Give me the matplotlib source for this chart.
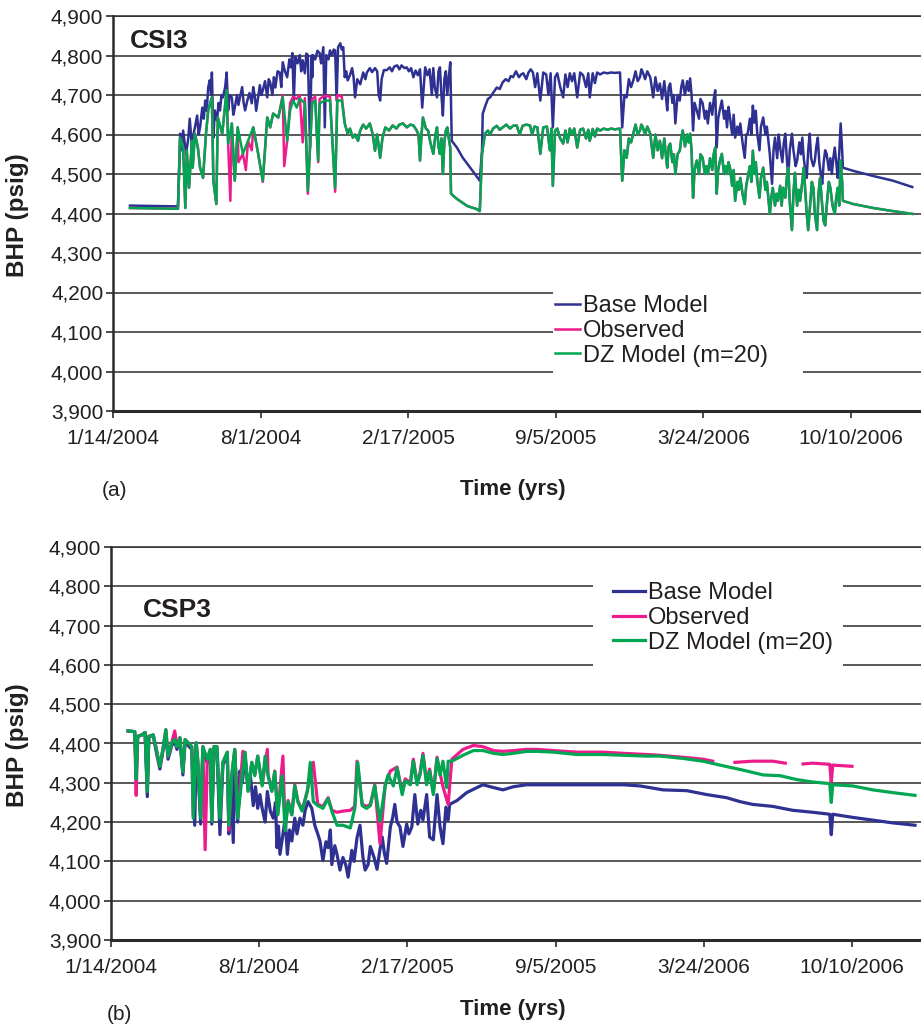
import numpy as np
import matplotlib
matplotlib.use("Agg")
import matplotlib.pyplot as plt
from matplotlib.patches import Rectangle

# Bottom-hole pressure (psig) vs days since 1/14/2004
NAN = np.nan

CSI3_BASE = [
    (23, 4420), (88, 4418), (91, 4602), (93, 4560), (95, 4610), (97, 4580), (99, 4551),
    (102, 4590), (104, 4640), (107, 4567), (109, 4600), (111, 4618), (114, 4648), (116, 4600),
    (118, 4618), (121, 4668), (123, 4640), (125, 4686), (127, 4660), (129, 4719), (131, 4737),
    (133, 4700), (134, 4757), (136, 4592), (138, 4661), (141, 4635), (143, 4680), (145, 4661),
    (147, 4700), (149, 4694), (152, 4720), (154, 4757), (156, 4661), (158, 4700), (161, 4694),
    (163, 4650), (165, 4668), (168, 4700), (170, 4675), (172, 4694), (175, 4720), (177, 4680),
    (179, 4661), (182, 4686), (185, 4705), (188, 4679), (190, 4720), (192, 4699), (194, 4660),
    (196, 4686), (199, 4725), (201, 4700), (203, 4712), (206, 4735), (209, 4694), (211, 4740),
    (213, 4732), (216, 4700), (218, 4745), (220, 4719), (223, 4760), (226, 4757), (228, 4720),
    (230, 4783), (233, 4760), (236, 4745), (239, 4790), (241, 4770), (243, 4806), (245, 4686),
    (247, 4796), (250, 4780), (253, 4801), (255, 4760), (257, 4788), (260, 4755), (262, 4805),
    (264, 4801), (267, 4567), (269, 4800), (270, 4745), (271, 4801), (274, 4790), (277, 4812),
    (280, 4806), (282, 4780), (285, 4821), (287, 4618), (289, 4801), (292, 4790), (294, 4813),
    (297, 4800), (299, 4815), (301, 4813), (303, 4686), (305, 4821), (308, 4831), (310, 4815),
    (312, 4821), (314, 4745), (316, 4760), (318, 4737), (321, 4750), (324, 4768), (326, 4745),
    (328, 4694), (331, 4740), (335, 4727), (339, 4757), (342, 4740), (344, 4757), (348, 4768),
    (351, 4758), (355, 4768), (358, 4760), (360, 4700), (362, 4686), (364, 4740), (367, 4763),
    (371, 4763), (375, 4770), (378, 4760), (381, 4772), (385, 4775), (388, 4765), (391, 4775),
    (395, 4768), (398, 4770), (401, 4760), (404, 4768), (407, 4745), (410, 4762), (413, 4750),
    (416, 4765), (419, 4668), (421, 4720), (423, 4770), (426, 4750), (429, 4765), (432, 4700),
    (434, 4768), (436, 4720), (439, 4694), (441, 4760), (443, 4770), (445, 4700), (447, 4648),
    (449, 4740), (451, 4760), (453, 4700), (455, 4745), (457, 4783), (459, 4584), (466, 4567),
    (474, 4541), (484, 4516), (497, 4483), (500, 4559), (501, 4653), (505, 4675), (508, 4690),
    (511, 4694), (515, 4705), (520, 4719), (524, 4715), (528, 4732), (532, 4740), (536, 4735),
    (539, 4748), (542, 4745), (546, 4760), (550, 4745), (553, 4752), (556, 4755), (560, 4740),
    (563, 4757), (566, 4765), (569, 4757), (572, 4720), (575, 4755), (579, 4686), (583, 4757),
    (587, 4752), (590, 4700), (593, 4755), (596, 4618), (599, 4745), (602, 4755), (606, 4720),
    (610, 4694), (613, 4752), (616, 4720), (619, 4755), (622, 4735), (625, 4755), (629, 4694),
    (633, 4757), (637, 4750), (641, 4720), (644, 4755), (646, 4694), (650, 4755), (653, 4730),
    (656, 4757), (660, 4752), (665, 4757), (670, 4755), (675, 4757), (680, 4756), (687, 4757),
    (690, 4618), (693, 4700), (696, 4694), (699, 4740), (702, 4720), (705, 4737), (708, 4760),
    (711, 4735), (714, 4745), (716, 4765), (718, 4757), (721, 4740), (724, 4760), (728, 4745),
    (730, 4720), (732, 4694), (735, 4745), (738, 4710), (741, 4729), (744, 4690), (747, 4735),
    (749, 4700), (751, 4661), (753, 4720), (755, 4729), (758, 4680), (760, 4700), (762, 4628),
    (765, 4700), (768, 4686), (770, 4720), (772, 4737), (775, 4700), (778, 4735), (780, 4710),
    (782, 4742), (784, 4700), (786, 4610), (788, 4680), (791, 4661), (794, 4640), (796, 4690),
    (799, 4679), (802, 4640), (804, 4660), (806, 4628), (809, 4680), (812, 4650), (814, 4690),
    (816, 4712), (818, 4567), (820, 4640), (822, 4660), (825, 4686), (828, 4640), (830, 4660),
    (832, 4618), (834, 4670), (836, 4643), (839, 4600), (841, 4650), (843, 4592), (846, 4620),
    (848, 4600), (850, 4628), (853, 4580), (856, 4541), (858, 4600), (860, 4602), (863, 4640),
    (865, 4600), (867, 4673), (869, 4630), (871, 4660), (873, 4602), (876, 4560), (878, 4620),
    (881, 4643), (884, 4600), (886, 4620), (888, 4584), (890, 4550), (893, 4475), (895, 4560),
    (897, 4592), (900, 4540), (902, 4600), (904, 4567), (907, 4530), (909, 4580), (911, 4602),
    (913, 4540), (915, 4490), (917, 4560), (920, 4602), (922, 4560), (925, 4520), (927, 4534),
    (930, 4580), (932, 4550), (934, 4592), (936, 4540), (938, 4510), (940, 4490), (942, 4560),
    (944, 4602), (946, 4540), (949, 4520), (951, 4534), (953, 4570), (955, 4592), (957, 4530),
    (959, 4500), (961, 4475), (963, 4530), (965, 4560), (967, 4551), (970, 4510), (972, 4540),
    (974, 4500), (976, 4540), (978, 4567), (980, 4530), (982, 4490), (984, 4550), (986, 4628),
    (988, 4560), (989, 4516), (1003, 4508), (1030, 4495), (1057, 4483), (1083, 4467),
]

CSI3_DZ = [
    (23, 4414), (88, 4412), (91, 4592), (95, 4567), (98, 4414), (100, 4559), (103, 4465),
    (107, 4584), (108, 4516), (111, 4602), (115, 4567), (118, 4516), (122, 4490), (126, 4602),
    (129, 4661), (134, 4694), (136, 4483), (140, 4424), (142, 4643), (148, 4602), (154, 4712),
    (156, 4577), (161, 4628), (165, 4483), (169, 4618), (176, 4551), (183, 4584), (190, 4618),
    (196, 4559), (203, 4483), (209, 4643), (213, 4618), (217, 4653), (224, 4643), (230, 4694),
    (236, 4584), (240, 4661), (244, 4686), (249, 4668), (253, 4691), (260, 4679), (264, 4457),
    (270, 4679), (274, 4686), (278, 4534), (280, 4679), (287, 4686), (294, 4686), (301, 4465),
    (304, 4686), (310, 4686), (314, 4628), (318, 4602), (321, 4615), (325, 4592), (328, 4600),
    (332, 4584), (335, 4610), (339, 4625), (343, 4615), (348, 4628), (352, 4600), (355, 4559),
    (358, 4600), (362, 4541), (365, 4590), (369, 4618), (374, 4610), (379, 4623), (384, 4615),
    (388, 4625), (393, 4628), (398, 4618), (403, 4625), (407, 4623), (411, 4612), (414, 4600),
    (416, 4534), (418, 4600), (420, 4643), (424, 4615), (427, 4610), (430, 4580), (434, 4551),
    (437, 4600), (439, 4618), (441, 4570), (443, 4551), (445, 4590), (447, 4500), (449, 4580),
    (451, 4610), (453, 4618), (455, 4590), (457, 4567), (458, 4450), (466, 4437), (480, 4419),
    (493, 4411), (497, 4406), (500, 4551), (504, 4602), (508, 4610), (511, 4600), (515, 4615),
    (520, 4622), (524, 4612), (528, 4618), (533, 4625), (538, 4615), (542, 4622), (547, 4623),
    (551, 4600), (555, 4622), (560, 4625), (565, 4623), (568, 4600), (571, 4620), (575, 4618),
    (579, 4551), (583, 4618), (588, 4620), (592, 4560), (594, 4615), (596, 4470), (599, 4610),
    (602, 4615), (606, 4590), (610, 4577), (613, 4610), (616, 4580), (619, 4615), (622, 4600),
    (625, 4615), (629, 4567), (633, 4612), (637, 4615), (641, 4590), (644, 4612), (646, 4584),
    (650, 4614), (653, 4595), (656, 4615), (660, 4610), (665, 4615), (670, 4612), (675, 4615),
    (680, 4613), (687, 4615), (690, 4483), (693, 4560), (696, 4541), (699, 4590), (702, 4580),
    (705, 4602), (708, 4625), (711, 4600), (714, 4610), (716, 4625), (718, 4618), (721, 4600),
    (724, 4620), (728, 4602), (730, 4570), (732, 4541), (735, 4600), (738, 4560), (741, 4584),
    (744, 4540), (747, 4590), (749, 4550), (751, 4516), (753, 4570), (755, 4577), (758, 4530),
    (760, 4550), (762, 4500), (765, 4550), (768, 4559), (770, 4590), (772, 4610), (775, 4570),
    (778, 4600), (780, 4580), (782, 4602), (784, 4560), (786, 4440), (788, 4510), (791, 4534),
    (794, 4500), (796, 4550), (799, 4541), (802, 4500), (804, 4520), (806, 4500), (809, 4540),
    (812, 4510), (814, 4550), (816, 4567), (818, 4450), (820, 4510), (822, 4530), (825, 4551),
    (828, 4500), (830, 4520), (832, 4500), (834, 4530), (836, 4516), (839, 4470), (841, 4510),
    (843, 4432), (846, 4480), (848, 4460), (850, 4490), (853, 4450), (856, 4424), (858, 4470),
    (860, 4490), (863, 4520), (865, 4480), (867, 4559), (869, 4500), (871, 4530), (873, 4483),
    (876, 4440), (878, 4490), (881, 4516), (884, 4460), (886, 4480), (888, 4440), (890, 4399),
    (892, 4440), (894, 4465), (897, 4420), (899, 4450), (901, 4432), (904, 4470), (906, 4420),
    (908, 4465), (911, 4440), (913, 4490), (915, 4516), (917, 4430), (920, 4358), (922, 4450),
    (924, 4503), (927, 4420), (929, 4460), (931, 4432), (934, 4480), (936, 4516), (938, 4460),
    (940, 4400), (942, 4358), (945, 4430), (947, 4480), (949, 4465), (951, 4400), (954, 4358),
    (956, 4450), (958, 4490), (961, 4420), (963, 4380), (965, 4370), (968, 4440), (970, 4480),
    (972, 4465), (975, 4420), (978, 4399), (980, 4440), (982, 4465), (984, 4420), (986, 4534),
    (988, 4480), (989, 4432), (1003, 4424), (1030, 4414), (1057, 4406), (1083, 4399),
]

# observed matches the DZ model after day 314 (hidden under it in the figure)
CSI3_OBS = [
    (23, 4414), (88, 4412), (91, 4592), (95, 4567), (98, 4414), (100, 4559), (103, 4465),
    (107, 4584), (108, 4516), (111, 4602), (115, 4567), (118, 4516), (122, 4490), (126, 4602),
    (129, 4661), (134, 4694), (136, 4483), (140, 4424), (142, 4643), (148, 4602), (154, 4712),
    (156, 4577), (159, 4432), (161, 4628), (165, 4483), (169, 4618), (170, 4530), (176, 4551),
    (180, 4510), (183, 4584), (188, 4560), (190, 4618), (196, 4559), (203, 4480), (209, 4643),
    (213, 4618), (217, 4653), (224, 4643), (230, 4700), (232, 4520), (236, 4584), (240, 4680),
    (244, 4696), (249, 4690), (253, 4700), (257, 4580), (260, 4692), (264, 4450), (270, 4690),
    (274, 4696), (278, 4530), (280, 4690), (287, 4698), (294, 4696), (301, 4455), (304, 4700),
    (310, 4696),
] + [p for p in CSI3_DZ if p[0] >= 314]

CSP3_BASE = [
    (23, 4432), (32, 4430), (34, 4320), (36, 4418), (42, 4422), (46, 4428), (49, 4265),
    (51, 4418), (57, 4420), (62, 4370), (66, 4335), (70, 4380), (74, 4425), (77, 4360),
    (82, 4395), (86, 4405), (89, 4385), (93, 4410), (97, 4320), (100, 4405), (104, 4395),
    (109, 4385), (113, 4192), (115, 4395), (117, 4350), (121, 4195), (124, 4385), (130, 4350),
    (134, 4380), (136, 4195), (139, 4385), (143, 4385), (147, 4168), (151, 4345), (157, 4370),
    (159, 4170), (162, 4300), (165, 4148), (167, 4380), (171, 4200), (174, 4330), (177, 4300),
    (181, 4360), (185, 4285), (188, 4320), (192, 4242), (195, 4290), (198, 4235), (201, 4270),
    (204, 4235), (208, 4200), (211, 4278), (215, 4228), (219, 4210), (222, 4250), (224, 4135),
    (226, 4190), (228, 4118), (232, 4168), (235, 4210), (238, 4118), (241, 4180), (244, 4152),
    (248, 4210), (251, 4170), (255, 4210), (259, 4192), (262, 4230), (266, 4252), (271, 4235),
    (275, 4192), (279, 4170), (282, 4152), (286, 4102), (290, 4150), (293, 4135), (296, 4180),
    (298, 4092), (302, 4140), (305, 4118), (309, 4078), (313, 4110), (317, 4090), (320, 4060),
    (325, 4128), (328, 4100), (332, 4160), (336, 4192), (340, 4110), (343, 4078), (347, 4092),
    (350, 4138), (355, 4110), (359, 4080), (363, 4130), (366, 4162), (369, 4120), (372, 4095),
    (377, 4188), (380, 4210), (383, 4245), (386, 4200), (390, 4188), (394, 4138), (399, 4195),
    (402, 4170), (406, 4188), (410, 4270), (414, 4195), (418, 4230), (421, 4205), (426, 4270),
    (430, 4162), (435, 4155), (440, 4270), (444, 4188), (448, 4145), (452, 4238), (455, 4205),
    (457, 4245), (467, 4255), (480, 4275), (494, 4288), (502, 4295), (516, 4288), (529, 4282),
    (543, 4290), (561, 4295), (583, 4295), (619, 4295), (664, 4295), (691, 4295), (714, 4292),
    (745, 4282), (777, 4280), (804, 4270), (831, 4262), (849, 4252), (866, 4245), (893, 4240),
    (920, 4230), (947, 4225), (970, 4220), (972, 4168), (974, 4220), (1001, 4212), (1028, 4205),
    (1055, 4198), (1085, 4192),
]

CSP3_OBS = [
    (23, 4432), (32, 4430), (34, 4268), (36, 4418), (42, 4422), (46, 4428), (49, 4285),
    (51, 4418), (57, 4422), (62, 4378), (66, 4342), (70, 4385), (74, 4435), (77, 4368),
    (82, 4402), (86, 4432), (89, 4392), (93, 4415), (97, 4328), (100, 4410), (104, 4402),
    (109, 4392), (111, 4215), (115, 4402), (117, 4360), (121, 4215), (124, 4392), (127, 4130),
    (130, 4360), (134, 4385), (136, 4205), (139, 4392), (143, 4392), (147, 4215), (151, 4352),
    (157, 4378), (159, 4180), (163, 4320), (167, 4385), (171, 4212), (178, 4380), (181, 4370),
    (185, 4280), (190, 4352), (194, 4320), (198, 4368), (204, 4295), (211, 4385), (212, 4320),
    (217, 4280), (221, 4330), (225, 4220), (232, 4368), (235, 4180), (239, 4255), (244, 4220),
    (248, 4295), (252, 4255), (258, 4230), (265, 4280), (273, 4352), (279, 4245), (286, 4240),
    (293, 4262), (298, 4230), (305, 4225), (313, 4228), (323, 4230), (329, 4240), (332, 4355),
    (339, 4245), (345, 4240), (350, 4245), (356, 4295), (363, 4145), (370, 4295), (377, 4330),
    (386, 4340), (393, 4275), (397, 4310), (404, 4300), (408, 4360), (413, 4300), (417, 4325),
    (421, 4375), (426, 4300), (430, 4335), (435, 4275), (440, 4365), (444, 4325), (448, 4290),
    (455, 4245), (460, 4360), (475, 4385), (489, 4395), (502, 4392), (516, 4382), (529, 4380),
    (543, 4382), (561, 4385), (575, 4385), (597, 4382), (629, 4378), (664, 4378), (691, 4375),
    (723, 4372), (741, 4370), (772, 4365), (799, 4360), (812, 4355), (815, NAN), (842, 4352),
    (866, 4355), (893, 4355), (910, 4350), (913, NAN), (934, 4348), (947, 4350), (970, 4347),
    (972, 4300), (974, 4345), (1000, 4342),
]

CSP3_DZ = [
    (23, 4432), (32, 4430), (34, 4310), (36, 4418), (42, 4422), (46, 4428), (49, 4278),
    (51, 4418), (57, 4422), (62, 4378), (66, 4342), (70, 4385), (74, 4435), (77, 4368),
    (82, 4402), (86, 4410), (89, 4392), (93, 4415), (97, 4328), (100, 4410), (104, 4402),
    (109, 4392), (111, 4210), (115, 4402), (117, 4360), (121, 4210), (124, 4392), (130, 4360),
    (134, 4385), (136, 4202), (139, 4392), (143, 4392), (147, 4210), (151, 4352), (157, 4378),
    (159, 4192), (163, 4318), (167, 4385), (171, 4210), (177, 4318), (181, 4378), (185, 4278),
    (190, 4352), (194, 4318), (198, 4368), (204, 4292), (208, 4368), (212, 4318), (217, 4278),
    (221, 4328), (225, 4218), (231, 4318), (235, 4178), (239, 4252), (244, 4218), (248, 4292),
    (252, 4252), (258, 4228), (265, 4278), (269, 4352), (273, 4252), (279, 4242), (286, 4235),
    (293, 4260), (298, 4228), (305, 4192), (313, 4192), (323, 4185), (329, 4235), (333, 4352),
    (339, 4242), (345, 4235), (350, 4242), (356, 4292), (363, 4202), (370, 4292), (374, 4320),
    (381, 4292), (386, 4338), (393, 4270), (397, 4305), (404, 4295), (408, 4355), (413, 4295),
    (417, 4320), (421, 4370), (426, 4295), (430, 4330), (435, 4270), (440, 4362), (444, 4320),
    (448, 4355), (453, 4288), (455, 4355), (460, 4355), (475, 4370), (489, 4382), (502, 4382),
    (516, 4375), (529, 4372), (543, 4375), (561, 4380), (575, 4380), (597, 4378), (629, 4372),
    (664, 4372), (691, 4370), (723, 4368), (741, 4368), (772, 4362), (799, 4355), (822, 4345),
    (839, 4338), (858, 4330), (880, 4320), (903, 4318), (926, 4308), (947, 4302), (970, 4298),
    (972, 4250), (974, 4295), (1001, 4292), (1028, 4282), (1055, 4275), (1085, 4268),
]

SERIES_NAMES = ["Base Model", "Observed", "DZ Model (m=20)"]
X_TICKS = [0, 200, 400, 600, 800, 1000]
X_TICK_LABELS = ["1/14/2004", "8/1/2004", "2/17/2005", "9/5/2005", "3/24/2006", "10/10/2006"]
Y_TICKS = list(range(3900, 5000, 100))

COLORS = ["#2e3192", "#ec1c8c", "#00a651"]
NARROW = ["Liberation Sans Narrow", "Liberation Sans", "DejaVu Sans"]
TEXT_COLOR = "#231f20"

W, H = 921, 1024
fig = plt.figure(figsize=(W / 100, H / 100), dpi=100)


def px_rect(left, top, right, bottom):
    return [left / W, 1 - bottom / H, (right - left) / W, (bottom - top) / H]


def style_axes(ax, xmax):
    ax.set_xlim(0, xmax)
    ax.set_ylim(3900, 4900)
    ax.set_axisbelow(True)
    ax.yaxis.grid(True, color="#2b2b2b", linewidth=1.1)
    ax.set_yticks(Y_TICKS)
    ax.set_yticklabels([f"{v:,}" for v in Y_TICKS])
    ax.set_xticks(X_TICKS)
    ax.set_xticklabels(X_TICK_LABELS)
    for lab in ax.get_xticklabels() + ax.get_yticklabels():
        lab.set_family(NARROW)
        lab.set_fontsize(15)
        lab.set_color(TEXT_COLOR)
    ax.tick_params(axis="y", length=5, width=1.2, pad=2, color="#2b2b2b")
    ax.tick_params(axis="x", length=5, width=1.2, pad=8, color="#2b2b2b")
    ax.spines["right"].set_visible(False)
    ax.spines["top"].set_linewidth(1.1)
    ax.spines["top"].set_color("#2b2b2b")
    ax.spines["left"].set_linewidth(1.8)
    ax.spines["left"].set_color("#2b2b2b")
    ax.spines["bottom"].set_linewidth(2.2)
    ax.spines["bottom"].set_color("#2b2b2b")


def draw_panel(ax, series, lw):
    for data, name, color in zip(series, SERIES_NAMES, COLORS):
        days, bhp = zip(*data)
        ax.plot(days, bhp, color=color, linewidth=lw, label=name)


def add_legend(ax, left, top, handle_len):
    ax.legend(loc="upper left", bbox_to_anchor=(left / W, 1 - top / H),
              bbox_transform=fig.transFigure, frameon=False,
              prop={"family": "Liberation Sans", "size": 17}, handlelength=handle_len,
              handletextpad=0.13, labelspacing=0.12, borderpad=0, borderaxespad=0,
              labelcolor=TEXT_COLOR)


# (a) CSI3
ax1 = fig.add_axes(px_rect(113, 16, 921, 411))
style_axes(ax1, (921 - 113) / 0.738)
draw_panel(ax1, [CSI3_BASE, CSI3_OBS, CSI3_DZ], 1.8)
ax1.add_patch(Rectangle((553 / W, 1 - 387 / H), 250 / W, 104 / H, transform=fig.transFigure,
                        facecolor="white", edgecolor="none", zorder=1))
add_legend(ax1, 555, 295, 1.06)

# (b) CSP3
ax2 = fig.add_axes(px_rect(111, 547, 921, 940))
style_axes(ax2, (921 - 111) / 0.741)
draw_panel(ax2, [CSP3_BASE, CSP3_OBS, CSP3_DZ], 2.3)
ax2.add_patch(Rectangle((593 / W, 1 - 682 / H), 250 / W, 112 / H, transform=fig.transFigure,
                        facecolor="white", edgecolor="none", zorder=1))
add_legend(ax2, 613, 582, 1.36)

# panel titles, axis labels and (a)/(b) tags
fig.text(130 / W, 1 - 48 / H, "CSI3", family="Liberation Sans", weight="bold", fontsize=19,
         color=TEXT_COLOR, va="baseline")
fig.text(143 / W, 1 - 617 / H, "CSP3", family="Liberation Sans", weight="bold", fontsize=19,
         color=TEXT_COLOR, va="baseline")
for y in (215, 745):
    fig.text(18 / W, 1 - y / H, "BHP (psig)", family=NARROW, weight="bold", fontsize=17.5,
             rotation=90, ha="center", va="center", color=TEXT_COLOR)
for y in (490, 1010):
    fig.text(513 / W, 1 - y / H, "Time (yrs)", family=NARROW, weight="bold", fontsize=16,
             ha="center", va="center", color=TEXT_COLOR)
fig.text(114 / W, 1 - 490 / H, "(a)", family=NARROW, fontsize=15, ha="center", va="center",
         color=TEXT_COLOR)
fig.text(119 / W, 1 - 1015 / H, "(b)", family=NARROW, fontsize=15, ha="center", va="center",
         color=TEXT_COLOR)

fig.savefig("out.png", dpi=100)
